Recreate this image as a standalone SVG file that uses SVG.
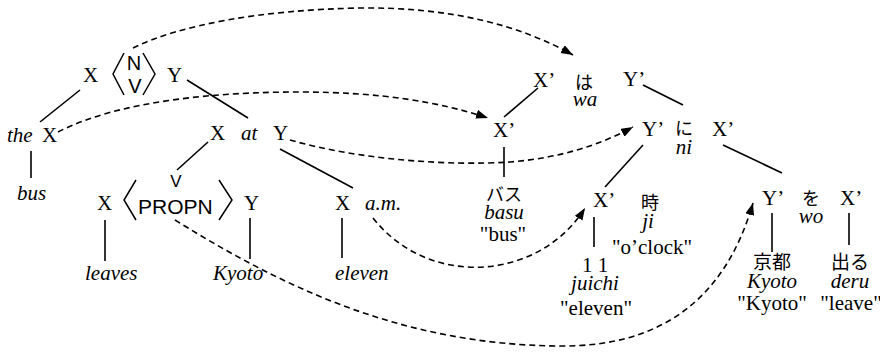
<svg xmlns="http://www.w3.org/2000/svg" width="880" height="353" viewBox="0 0 880 353">
  <style>
    .t, .i { font-family: 'Liberation Serif', 'DejaVu Serif', 'Times New Roman', serif; font-size: 21px; fill: #000; }
    .i { font-style: italic; }
    .s { font-family: 'Liberation Sans', Arial, sans-serif; font-size: 20px; fill: #000; }
    .j { font-family: 'Liberation Serif', 'Noto Sans CJK JP', sans-serif; font-size: 18px; fill: #000; }
    .m { text-anchor: middle; }
    .edge { stroke: #000; stroke-width: 1.6; fill: none; }
    .br { stroke: #000; stroke-width: 1.5; fill: none; }
    .mv { stroke: #000; stroke-width: 1.6; fill: none; stroke-dasharray: 6 4; }
  </style>
  <defs>
    <marker id="ah" markerUnits="userSpaceOnUse" markerWidth="14" markerHeight="10" refX="12" refY="4.5" orient="auto">
      <path d="M0,0 L12,4.5 L0,9 Z" fill="#000"/>
    </marker>
  </defs>

  <rect width="880" height="353" fill="#fff"/>

  <!-- English tree -->
  <g id="en-root">
    <text class="t" x="83" y="82">X</text>
    <path class="br" d="M124,53 L113,74 L124,95"/>
    <text class="s m" x="134" y="70">N</text>
    <text class="s m" x="135" y="93">V</text>
    <path class="br" d="M143,53 L155,74 L143,95"/>
    <text class="t" x="167" y="82">Y</text>
  </g>
  <g id="en-subject">
    <text class="i" x="7" y="142">the</text>
    <text class="t" x="42" y="142">X</text>
  </g>
  <g id="en-bus">
    <text class="i" x="17" y="200">bus</text>
  </g>
  <g id="en-at">
    <text class="t" x="210" y="140">X</text>
    <text class="i" x="241" y="140">at</text>
    <text class="t" x="273" y="140">Y</text>
  </g>
  <g id="en-verb">
    <text class="t" x="97" y="210">X</text>
    <path class="br" d="M136,180 L124,200 L136,220"/>
    <text class="s m" x="176" y="187" style="font-size:17px">V</text>
    <text class="s" x="138" y="214" style="font-size:21px">PROPN</text>
    <path class="br" d="M219,180 L232,200 L219,220"/>
    <text class="t" x="244" y="210">Y</text>
  </g>
  <g id="en-leaves">
    <text class="i" x="85" y="280">leaves</text>
  </g>
  <g id="en-kyoto">
    <text class="i" x="213" y="280">Kyoto</text>
  </g>
  <g id="en-am">
    <text class="t" x="335" y="210">X</text>
    <text class="i" x="365" y="210">a.m.</text>
  </g>
  <g id="en-eleven">
    <text class="i" x="335" y="280">eleven</text>
  </g>

  <!-- Japanese tree -->
  <g id="ja-root">
    <text class="t" x="533" y="87">X’</text>
    <text class="j m" x="584" y="89">は</text>
    <text class="i m" x="585" y="106">wa</text>
    <text class="t" x="623" y="86">Y’</text>
  </g>
  <g id="ja-basu">
    <text class="t" x="493" y="137">X’</text>
    <text class="j m" x="504" y="201">バス</text>
    <text class="i m" x="504" y="219">basu</text>
    <text class="t m" x="503" y="241">"bus"</text>
  </g>
  <g id="ja-ni">
    <text class="t" x="642" y="136">Y’</text>
    <text class="j m" x="684" y="135">に</text>
    <text class="i m" x="684" y="154">ni</text>
    <text class="t" x="712" y="136">X’</text>
  </g>
  <g id="ja-juichi">
    <text class="t" x="593" y="207">X’</text>
    <text class="t m" x="595" y="272">1 1</text>
    <text class="i m" x="595" y="290">juichi</text>
    <text class="t m" x="596" y="315">"eleven"</text>
  </g>
  <g id="ja-ji">
    <text class="j m" x="650" y="209">時</text>
    <text class="i m" x="648" y="228">ji</text>
    <text class="t m" x="652" y="254">"o’clock"</text>
  </g>
  <g id="ja-wo">
    <text class="t" x="762" y="205">Y’</text>
    <text class="j m" x="811" y="205">を</text>
    <text class="i m" x="811" y="223">wo</text>
    <text class="t" x="840" y="205">X’</text>
  </g>
  <g id="ja-kyoto">
    <text class="j m" x="772" y="269" style="font-size:19px">京都</text>
    <text class="i m" x="772" y="288">Kyoto</text>
    <text class="t m" x="772" y="310">"Kyoto"</text>
  </g>
  <g id="ja-deru">
    <text class="j m" x="850" y="269" style="font-size:19px">出る</text>
    <text class="i m" x="850" y="288">deru</text>
    <text class="t m" x="851" y="310">"leave"</text>
  </g>

  <g id="connectors">
    <!-- tree branches -->
    <line class="edge" x1="80" y1="90" x2="40" y2="122"/>
    <line class="edge" x1="187" y1="80" x2="248" y2="118"/>
    <line class="edge" x1="31" y1="151" x2="31" y2="178"/>
    <line class="edge" x1="208" y1="142" x2="177" y2="170"/>
    <line class="edge" x1="280" y1="149" x2="353" y2="188"/>
    <line class="edge" x1="105" y1="220" x2="105" y2="261"/>
    <line class="edge" x1="250" y1="218" x2="250" y2="259"/>
    <line class="edge" x1="342" y1="218" x2="342" y2="258"/>

    <line class="edge" x1="538" y1="88" x2="504" y2="117"/>
    <line class="edge" x1="643" y1="85" x2="683" y2="105"/>
    <line class="edge" x1="504" y1="147" x2="504" y2="177"/>
    <line class="edge" x1="643" y1="145" x2="605" y2="187"/>
    <line class="edge" x1="723" y1="145" x2="782" y2="173"/>
    <line class="edge" x1="594" y1="217" x2="594" y2="247"/>
    <line class="edge" x1="772" y1="213" x2="772" y2="252"/>
    <line class="edge" x1="849" y1="213" x2="849" y2="245"/>

    <!-- correspondence arrows -->
    <path class="mv" marker-end="url(#ah)" d="M133,48 C180,25 260,10 360,8 C450,7 520,25 573,55"/>
    <path class="mv" marker-end="url(#ah)" d="M58,132 C120,100 220,92 300,92 C380,92 440,102 488,118"/>
    <path class="mv" marker-end="url(#ah)" d="M290,140 C360,160 450,166 510,162 C560,158 600,145 633,127"/>
    <path class="mv" marker-end="url(#ah)" d="M373,218 C430,290 540,280 585,208"/>
    <path class="mv" marker-end="url(#ah)" d="M175,220 C280,285 400,345 560,346 C660,347 725,300 753,203"/>
  </g>
</svg>
